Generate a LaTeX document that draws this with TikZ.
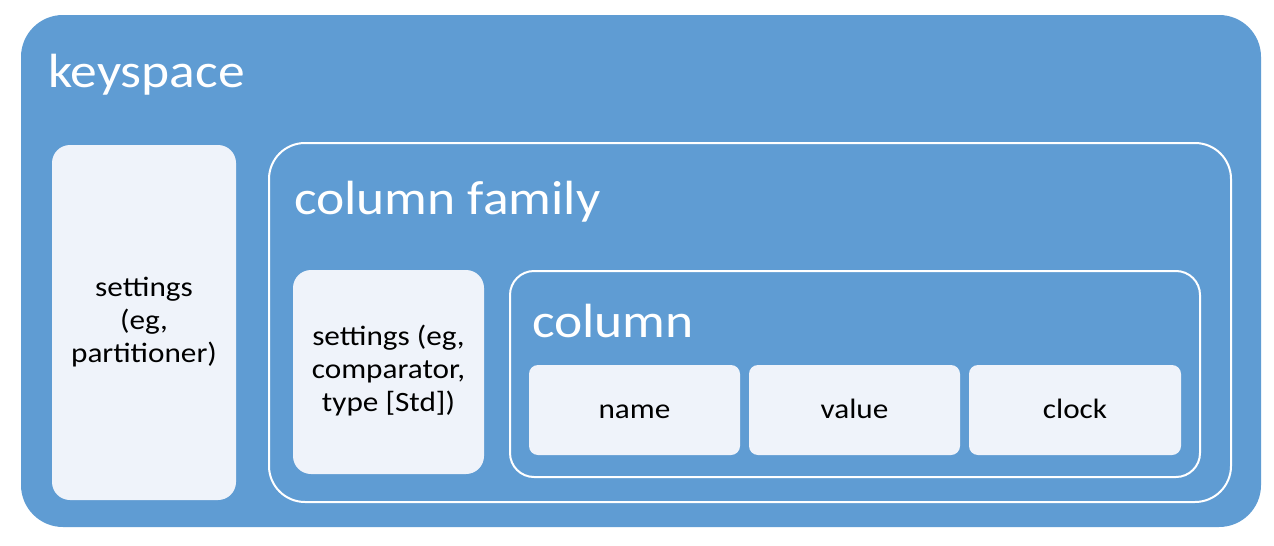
\documentclass[tikz,border=0pt]{standalone}
\usepackage{fontspec}
\setmainfont{Carlito}
\newfontfamily\titlefont[FakeStretch=1.115]{Carlito}
\newfontfamily\cellfont[FakeStretch=1.115]{Carlito}
\definecolor{ksblue}{HTML}{5F9CD3}
\definecolor{lightbox}{HTML}{EFF3FA}
\tikzset{
  outerbox/.style={fill=ksblue, draw=none, rounded corners=42pt},
  framebox/.style={draw=white, line width=2pt, fill=none},
  lightcell/.style={fill=lightbox, draw=none},
  bigtitle/.style={text=white, anchor=base west, inner sep=0pt, font=\titlefont\fontsize{48}{56}\selectfont},
  celltext/.style={text=black, align=center, font=\cellfont\fontsize{28}{33}\selectfont},
  wordtext/.style={celltext, anchor=base, inner sep=0pt}
}
\begin{document}
\begin{tikzpicture}[x=1pt,y=-1pt]
\useasboundingbox (0,0) rectangle (1274,546);
\fill[white] (0,0) rectangle (1274,546);
% keyspace
\path[outerbox] (21,15) rectangle (1261,527);
\node[bigtitle] (ks) at (48,87) {keyspace};
% keyspace settings
\path[lightcell, rounded corners=18pt] (52,145) rectangle (236,500);
\node[celltext] (kss) at (144,322) {settings\\(eg,\\partitioner)};
% column family
\draw[framebox, rounded corners=36pt] (269,143) rectangle (1231,502);
\node[bigtitle] (cf) at (294,214) {column family};
\path[lightcell, rounded corners=18pt] (293,270) rectangle (484,474);
\node[celltext] (cfs) at (388.5,371) {settings (eg,\\comparator,\\type [Std])};
% column
\draw[framebox, rounded corners=24pt] (510,271) rectangle (1200,477);
\node[bigtitle] (col) at (532,337) {column};
\path[lightcell, rounded corners=9pt] (529,365) rectangle (740,455);
\node[wordtext] (name) at (634.5,418) {name};
\path[lightcell, rounded corners=9pt] (749,365) rectangle (960,455);
\node[wordtext] (value) at (854.5,418) {value};
\path[lightcell, rounded corners=9pt] (969,365) rectangle (1181,455);
\node[wordtext] (clock) at (1075,418) {clock};
\end{tikzpicture}
\end{document}
